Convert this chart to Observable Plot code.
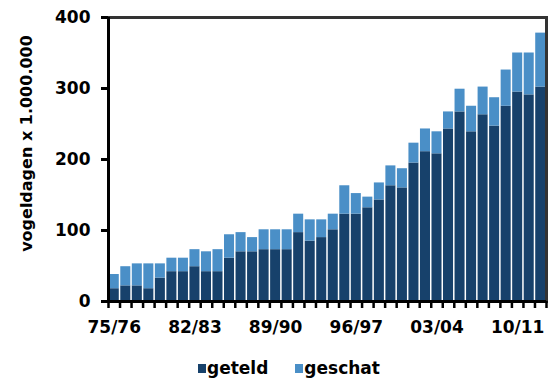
<!DOCTYPE html>
<html>
<head>
<meta charset="utf-8">
<script src="https://cdn.jsdelivr.net/npm/d3@7"></script>
<script src="https://cdn.jsdelivr.net/npm/@observablehq/plot@0.6"></script>
<style>
  html, body { margin: 0; padding: 0; background: #fff; }
  body { position: relative; width: 555px; height: 384px; overflow: hidden; font-family: "DejaVu Sans", sans-serif; }
  #legend { position: absolute; left: 198px; top: 358px; display: flex; align-items: center; font-weight: bold; font-size: 17px; color: #000; }
  #legend .item { display: flex; align-items: center; margin-right: 27px; }
  #legend .swatch { width: 8px; height: 9px; margin-right: 1px; }
</style>
</head>
<body>
<div id="chart"></div>
<div id="legend"></div>
<script>
// Winter seasons
const seasons = [
  "75/76","76/77","77/78","78/79","79/80","80/81","81/82","82/83","83/84","84/85",
  "85/86","86/87","87/88","88/89","89/90","90/91","91/92","92/93","93/94","94/95",
  "95/96","96/97","97/98","98/99","99/00","00/01","01/02","02/03","03/04","04/05",
  "05/06","06/07","07/08","08/09","09/10","10/11","11/12","12/13"
];
// Counted bird-days (millions)
const geteld = [
  18, 22, 22, 18, 33, 42, 42, 49, 42, 42,
  61, 70, 70, 73, 73, 73, 97, 85, 90, 101,
  123, 123, 132, 143, 163, 160, 195, 211, 208, 243,
  267, 239, 263, 247, 275, 295, 291, 302
];
// Estimated extra bird-days (millions), stacked on top
const geschat = [
  20, 27, 31, 35, 20, 19, 19, 24, 28, 31,
  33, 27, 20, 28, 28, 28, 26, 30, 25, 22,
  40, 29, 15, 24, 28, 27, 28, 32, 31, 24,
  32, 36, 39, 40, 51, 55, 59, 76
];
const seriesNames = ["geteld", "geschat"];
const seriesColors = ["#17416b", "#4a8fc7"];
const labelledSeasons = ["75/76", "82/83", "89/90", "96/97", "03/04", "10/11"];
const yTicks = [0, 100, 200, 300, 400];
const yTitle = "vogeldagen x 1.000.000";

const rows = seasons.flatMap((s, i) => [
  { season: s, i, serie: "geteld", value: geteld[i] },
  { season: s, i, serie: "geschat", value: geschat[i] }
]);

const labelPositions = labelledSeasons.map(s => seasons.indexOf(s) + 0.5);

const plot = Plot.plot({
  width: 555,
  height: 345,
  marginTop: 17,
  marginRight: 9,
  marginBottom: 44,
  marginLeft: 108,
  style: { fontFamily: "DejaVu Sans", fontSize: "17px", fontWeight: "bold", color: "#000", background: "#fff", overflow: "visible" },
  x: { domain: [0, seasons.length], label: null },
  y: { domain: [0, 400], label: null },
  color: { domain: seriesNames, range: seriesColors },
  marks: [
    Plot.rectY(rows, {
      x1: "i", x2: d => d.i + 1, y: "value", fill: "serie",
      order: seriesNames, insetLeft: 0.75, insetRight: 0.75
    }),
    Plot.frame({ stroke: "#333", strokeWidth: 3 }),
    Plot.ruleX([0], { stroke: "#000", strokeWidth: 3 }),
    Plot.ruleY([0], { stroke: "#000", strokeWidth: 3 }),
    Plot.axisY({ ticks: yTicks, tickSize: 7, tickPadding: 11, strokeWidth: 3, label: null }),
    Plot.axisX({ ticks: d3.range(seasons.length + 1), tickSize: 7, strokeWidth: 2.5, tickFormat: () => "", label: null }),
    Plot.axisX({ ticks: labelPositions, tickSize: 0, tickPadding: 19, tickFormat: t => seasons[Math.floor(t)], label: null }),
    Plot.text([yTitle], { frameAnchor: "left", textAnchor: "middle", rotate: -90, dx: -82, dy: -16, fontSize: 16, fontWeight: "bold", fill: "#000" })
  ]
});
document.getElementById("chart").appendChild(plot);

// Legend below the chart, colours taken from the plot's colour scale
const color = plot.scale("color");
const legend = document.getElementById("legend");
color.domain.forEach((name, k) => {
  const item = document.createElement("div");
  item.className = "item";
  const sw = document.createElement("span");
  sw.className = "swatch";
  sw.style.background = color.range[k];
  const label = document.createElement("span");
  label.textContent = name;
  item.appendChild(sw);
  item.appendChild(label);
  legend.appendChild(item);
});
</script>
</body>
</html>
